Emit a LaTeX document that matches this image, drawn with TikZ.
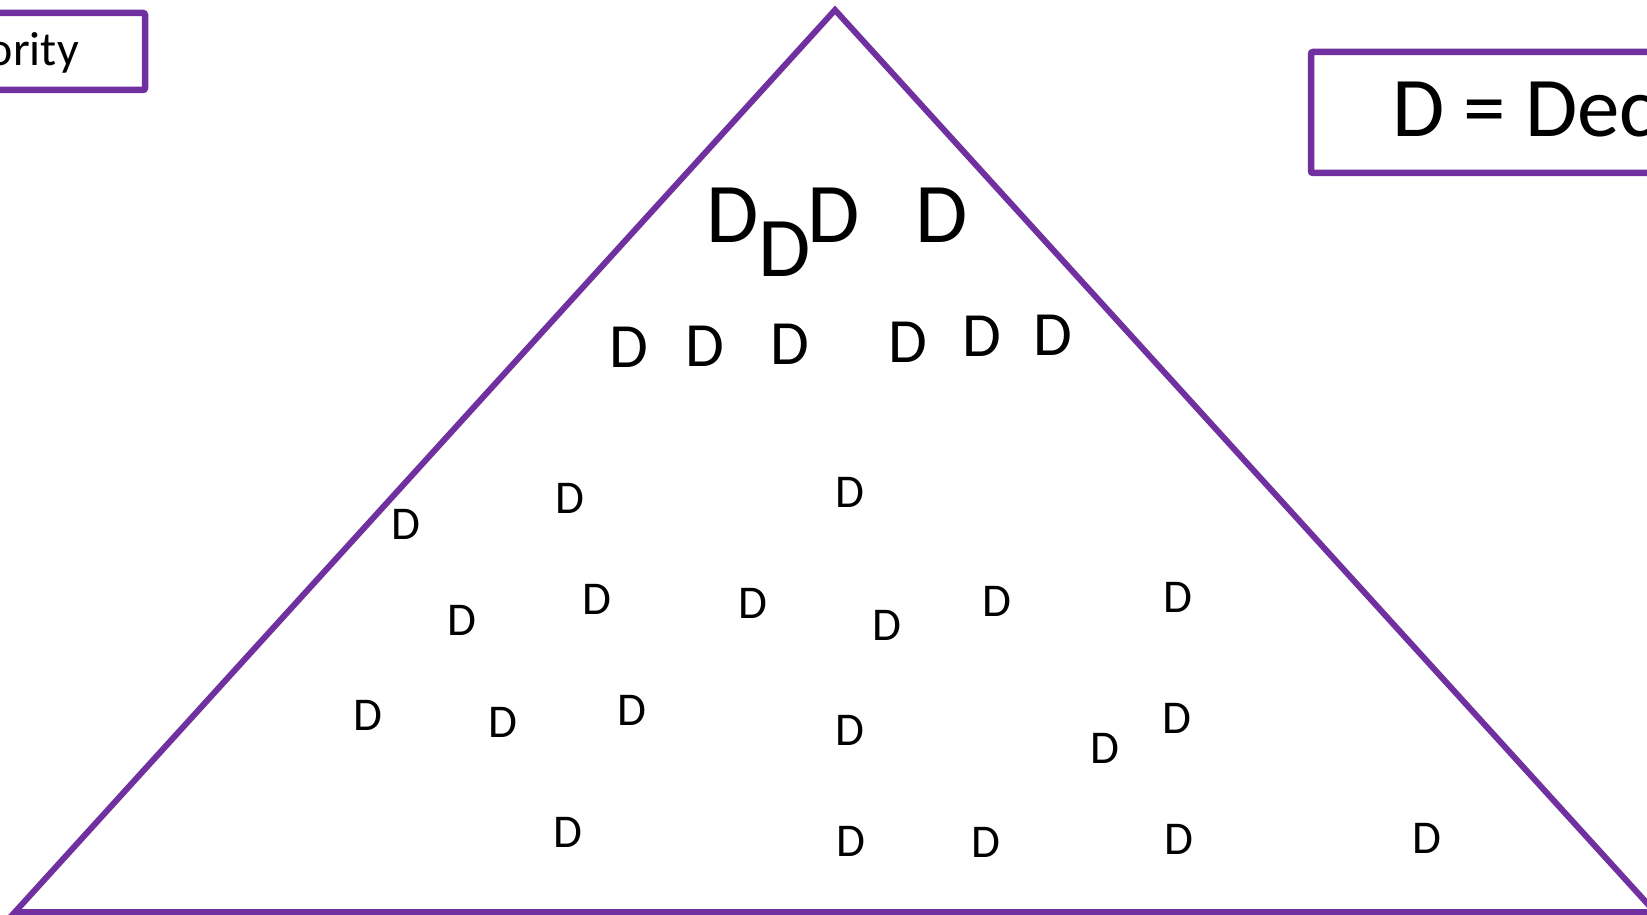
\documentclass[tikz,border=0pt]{standalone}
\usepackage{fontspec}
\setmainfont{Carlito}
\definecolor{ppl}{HTML}{7030A0}
\tikzset{
  frame/.style={draw=ppl, line width=6.5pt, rounded corners=2pt},
  tri/.style={draw=ppl, line width=6pt, line join=miter},
  dbig/.style={inner sep=0pt, anchor=base, font=\fontsize{85}{90}\selectfont},
  dmid/.style={inner sep=0pt, anchor=base, font=\fontsize{63}{68}\selectfont},
  dsml/.style={inner sep=0pt, anchor=base, font=\fontsize{47}{52}\selectfont},
}
\begin{document}
\begin{tikzpicture}[x=1pt,y=-1pt]
\useasboundingbox (0,0) rectangle (1647,915);
\clip (0,0) rectangle (1647,915);
\fill[white] (0,0) rectangle (1647,915);
% triangle
\coordinate (apex) at (835,10);
\coordinate (bl) at (15,912);
\coordinate (br) at (1655,912);
\draw[tri] (apex) -- (br) -- (bl) -- cycle;
% boxes
\draw[frame] (-20,13) rectangle (145,90);
\node[inner sep=0pt, anchor=base east, font=\fontsize{48}{52}\selectfont] (auth) at (79,66) {Authority};
\draw[frame] (1311,52) rectangle (1700,173);
\node[inner sep=0pt, anchor=base west, font=\fontsize{85}{90}\selectfont] (key) at (1392,137) {D = Decision};
% big D's
\node[dbig] (b1) at (733,242) {D};
\node[dbig] (b2) at (785,276) {D};
\node[dbig] (b3) at (834,242) {D};
\node[dbig] (b4) at (942,242) {D};
% medium D's
\node[dmid] (m1) at (629,367) {D};
\node[dmid] (m2) at (705,366) {D};
\node[dmid] (m3) at (790,364) {D};
\node[dmid] (m4) at (908,362) {D};
\node[dmid] (m5) at (982,356) {D};
\node[dmid] (m6) at (1053,355) {D};
% small D's
\node[dsml] (s1) at (406,539) {D};
\node[dsml] (s2) at (570,513) {D};
\node[dsml] (s3) at (850,507) {D};
\node[dsml] (s4) at (462,635) {D};
\node[dsml] (s5) at (597,614) {D};
\node[dsml] (s6) at (753,618) {D};
\node[dsml] (s7) at (887,640) {D};
\node[dsml] (s8) at (997,616) {D};
\node[dsml] (s9) at (1178,612) {D};
\node[dsml] (s10) at (368,730) {D};
\node[dsml] (s11) at (503,737) {D};
\node[dsml] (s12) at (632,725) {D};
\node[dsml] (s13) at (850,745) {D};
\node[dsml] (s14) at (1105,763) {D};
\node[dsml] (s15) at (1177,733) {D};
\node[dsml] (s16) at (568,847) {D};
\node[dsml] (s17) at (851,856) {D};
\node[dsml] (s18) at (986,857) {D};
\node[dsml] (s19) at (1179,854) {D};
\node[dsml] (s20) at (1427,853) {D};
\end{tikzpicture}
\end{document}
